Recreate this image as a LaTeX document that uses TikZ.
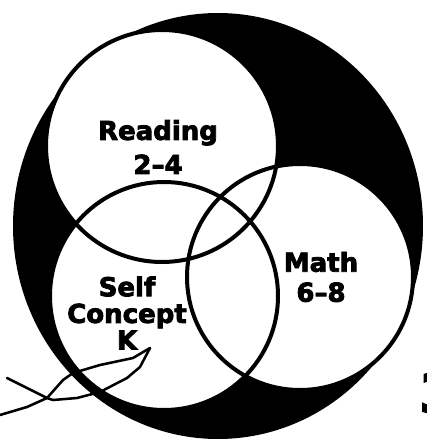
\documentclass[tikz,border=0pt]{standalone}
\usepackage{fontspec}
\setmainfont{DejaVu Sans}
\newfontfamily\heavyfont{DejaVu Sans Bold}[FakeBold=3]
\usetikzlibrary{positioning}

\begin{document}
\begin{tikzpicture}[
  x=0.75pt,y=-0.75pt,
  ring/.style={draw=black,line width=3pt},
  lbl/.style={font=\heavyfont\fontsize{19.5}{25.5}\selectfont,align=center,inner sep=0pt},
  scrawl/.style={line width=1.9pt,line join=round,line cap=round}
]
\useasboundingbox (0,0) rectangle (427,440);
\fill[white] (0,0) rectangle (427,440);
% dark disc behind the three areas
\fill[black] (218,226) ellipse [x radius=205,y radius=213];
\coordinate (readc) at (162,146);
\coordinate (selfc) at (164,296);
\coordinate (mathc) at (300,277);
\fill[white] (readc) circle (116);
\fill[white] (selfc) circle (114);
\fill[white] (mathc) circle (113);
\draw[ring] (readc) circle (116);
\draw[ring] (selfc) circle (114);
\draw[ring] (mathc) circle (113);
% labels
\node[lbl] (reading) at (158,147) {Reading\\2–4};
\node[lbl,font=\heavyfont\fontsize{19.5}{20}\selectfont] (self) at (127,313) {Self\\Concept\\K};
\node[lbl,font=\heavyfont\fontsize{19.5}{22.5}\selectfont] (math) at (321,277) {Math\\6–8};
% hand-drawn mark
\coordinate (tip) at (150,348);
\draw[scrawl] (tip) -- (133,358) -- (100,365) -- (73,373) -- (63,380) -- (47,398) -- (27,407) -- (0,415);
\draw[scrawl] (tip) -- (140,367) -- (127,378) -- (100,392) -- (77,398) -- (53,400) -- (47,398) -- (7,378);
% page number cut at the edge
\node[font=\heavyfont\fontsize{40}{40}\selectfont,anchor=west,inner sep=0pt] (pagenum) at (419,393) {3};
\end{tikzpicture}
\end{document}
